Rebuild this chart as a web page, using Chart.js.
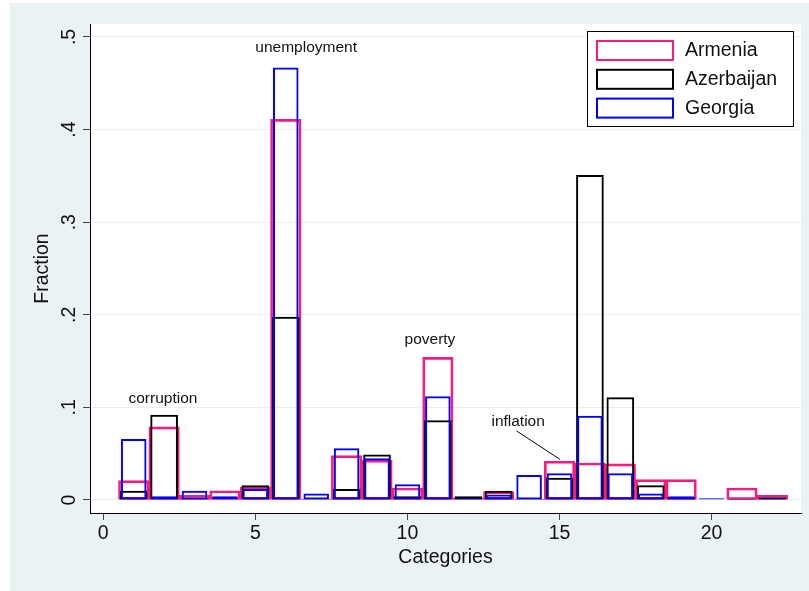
<!DOCTYPE html>
<html>
<head>
<meta charset="utf-8">
<script src="https://cdn.jsdelivr.net/npm/chart.js@4/dist/chart.umd.min.js"></script>
<style>
  html, body { margin: 0; padding: 0; background: #ffffff; }
  #wrap { width: 809px; height: 591px; }
</style>
</head>
<body>
<div id="wrap"><canvas id="chart" width="809" height="591"></canvas></div>
<script>
// Response categories (1..22) and the share of answers per country
const categories = [1, 2, 3, 4, 5, 6, 7, 8, 9, 10, 11, 12, 13, 14, 15, 16, 17, 18, 19, 20, 21, 22];
const armenia    = [0.021, 0.079, 0.005, 0.010, 0.014, 0.411, 0.001, 0.048, 0.043, 0.013, 0.154, 0.002, 0.009, 0.001, 0.042, 0.040, 0.039, 0.022, 0.022, 0.000, 0.013, 0.005];
const azerbaijan = [0.010, 0.092, 0.002, 0.000, 0.016, 0.198, 0.001, 0.012, 0.049, 0.004, 0.086, 0.004, 0.010, 0.001, 0.024, 0.351, 0.111, 0.016, 0.003, 0.000, 0.001, 0.003];
const georgia    = [0.066, 0.004, 0.010, 0.004, 0.012, 0.467, 0.007, 0.056, 0.045, 0.017, 0.112, 0.002, 0.006, 0.027, 0.029, 0.091, 0.029, 0.007, 0.004, 0.002, 0.001, 0.002];

const seriesNames = ['Armenia', 'Azerbaijan', 'Georgia'];

// Axis ticks
const xTickValues = [0, 5, 10, 15, 20];
const yTickValues = [0, 0.1, 0.2, 0.3, 0.4, 0.5];
const yTickLabels = ['0', '.1', '.2', '.3', '.4', '.5'];

// Text notes placed in data coordinates
const noteTexts = ['corruption', 'unemployment', 'poverty', 'inflation'];
const noteX = [1.96, 6.67, 10.74, 13.64];
const noteY = [0.109, 0.488, 0.1735, 0.0845];
// pointer line from the "inflation" note to its bar
const pointerFrom = [13.59, 0.0745];
const pointerTo = [15.01, 0.044];

const FONT = '"Liberation Sans", Arial, Helvetica, sans-serif';
const PINK = 'rgb(255, 25, 125)';
const BLACK = '#000000';
const BLUE = 'rgb(0, 0, 255)';
const BG = '#eaf2f3';

function toPoints(values) {
  return categories.map((c, i) => ({ x: c, y: values[i] }));
}

function barSet(label, values, color, pct, order) {
  return {
    label: label,
    data: toPoints(values),
    borderColor: color,
    backgroundColor: 'rgba(0,0,0,0)',
    borderWidth: 2,
    borderSkipped: false,
    grouped: false,
    categoryPercentage: 1,
    barPercentage: pct,
    order: order
  };
}

const backdrop = {
  id: 'backdrop',
  beforeDraw(chart) {
    const { ctx, chartArea: a } = chart;
    ctx.save();
    ctx.fillStyle = '#ffffff';
    ctx.fillRect(0, 0, chart.width, chart.height);
    ctx.fillStyle = BG;
    ctx.fillRect(10, 3, chart.width - 10, chart.height - 3);
    ctx.fillStyle = '#ffffff';
    ctx.fillRect(a.left, a.top, a.right - a.left, a.bottom - a.top);
    ctx.restore();
  }
};

const notesAndKey = {
  id: 'notesAndKey',
  afterDatasetsDraw(chart) {
    const { ctx } = chart;
    const xs = chart.scales.x, ys = chart.scales.y;
    ctx.save();
    // notes
    ctx.fillStyle = '#111111';
    ctx.font = '15.5px ' + FONT;
    ctx.textAlign = 'center';
    ctx.textBaseline = 'middle';
    noteTexts.forEach((t, i) => {
      ctx.fillText(t, xs.getPixelForValue(noteX[i]), ys.getPixelForValue(noteY[i]));
    });
    ctx.strokeStyle = '#000000';
    ctx.lineWidth = 1;
    ctx.beginPath();
    ctx.moveTo(xs.getPixelForValue(pointerFrom[0]), ys.getPixelForValue(pointerFrom[1]));
    ctx.lineTo(xs.getPixelForValue(pointerTo[0]), ys.getPixelForValue(pointerTo[1]));
    ctx.stroke();

    // key box in the upper right corner of the plot
    const bx = 587.5, by = 31.5, bw = 206, bh = 95;
    ctx.fillStyle = '#ffffff';
    ctx.fillRect(bx, by, bw, bh);
    ctx.strokeStyle = '#000000';
    ctx.lineWidth = 1;
    ctx.strokeRect(bx, by, bw, bh);
    const colors = [PINK, BLACK, BLUE];
    ctx.font = '19.5px ' + FONT;
    ctx.textAlign = 'left';
    ctx.textBaseline = 'middle';
    seriesNames.forEach((name, i) => {
      const sy = 41 + i * 28.8;
      ctx.strokeStyle = colors[i];
      ctx.lineWidth = 2;
      ctx.strokeRect(597, sy, 76, 19);
      ctx.fillStyle = '#111111';
      ctx.fillText(name, 685, sy + 10);
    });
    ctx.restore();
  }
};

new Chart(document.getElementById('chart'), {
  type: 'bar',
  data: {
    datasets: [
      barSet(seriesNames[0], armenia, PINK, 1.0, 3),
      barSet(seriesNames[1], azerbaijan, BLACK, 0.91, 2),
      barSet(seriesNames[2], georgia, BLUE, 0.84, 1)
    ]
  },
  options: {
    responsive: false,
    devicePixelRatio: 1,
    animation: false,
    layout: { padding: { left: 0, right: 8, top: 24, bottom: 0 } },
    plugins: {
      legend: { display: false },
      tooltip: { enabled: false }
    },
    scales: {
      x: {
        type: 'linear',
        min: -0.437,
        max: 22.94,
        offset: false,
        afterBuildTicks(scale) { scale.ticks = xTickValues.map(v => ({ value: v })); },
        afterFit(scale) { scale.height = 78; },
        grid: {
          offset: false,
          drawOnChartArea: false,
          drawTicks: true,
          tickLength: 7,
          tickColor: '#444444',
          lineWidth: 1
        },
        border: { display: true, color: '#000000', width: 1 },
        ticks: {
          color: '#111111',
          padding: 2,
          maxRotation: 0,
          minRotation: 0,
          font: { family: FONT, size: 19.5 },
          callback: (v) => String(v)
        },
        title: {
          display: true,
          text: 'Categories',
          color: '#111111',
          font: { family: FONT, size: 19.5 },
          padding: { top: 0, bottom: 22 }
        }
      },
      y: {
        type: 'linear',
        min: -0.01404,
        max: 0.514,
        afterBuildTicks(scale) { scale.ticks = yTickValues.map(v => ({ value: v })); },
        afterFit(scale) { scale.width = 90; },
        grid: {
          color: '#e6eef0',
          lineWidth: 1,
          drawTicks: true,
          tickLength: 7,
          tickColor: '#444444'
        },
        border: { display: true, color: '#000000', width: 1 },
        ticks: {
          color: '#111111',
          padding: 5,
          minRotation: 90,
          maxRotation: 90,
          crossAlign: 'center',
          font: { family: FONT, size: 19.5 },
          callback: (v, i) => yTickLabels[i]
        },
        title: {
          display: true,
          text: 'Fraction',
          color: '#111111',
          font: { family: FONT, size: 19.5 },
          padding: { top: 31, bottom: 0 }
        }
      }
    }
  },
  plugins: [backdrop, notesAndKey]
});
</script>
</body>
</html>
